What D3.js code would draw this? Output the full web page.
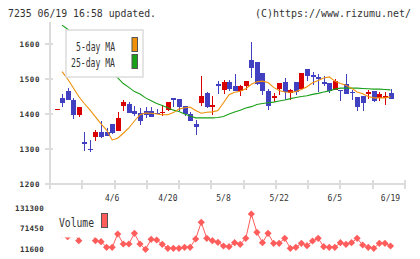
<!DOCTYPE html>
<html>
<head>
<meta charset="utf-8">
<script src="https://cdnjs.cloudflare.com/ajax/libs/d3/7.8.5/d3.min.js"></script>
<style>
    body { margin: 0; background: #fff; }
    svg { display: block; }
    text { font-family: "DejaVu Sans Mono", monospace; fill: #333; }
</style>
</head>
<body>
<svg id="chart" width="420" height="259"></svg>
<script>

// Data
var code = '7235',
    updated = '06/19 16:58 updated.',
    credit = '(C)https://www.rizumu.net/';

var opens  = [1413,1446,1466,1440,1398,1321,1300,1335,1349,1349,1371,1352,1424,1429,1409,1403,1409,1409,1404,1405,
              1412,1446,1443,1423,1401,1371,1432,1460,1421,1486,1469,1491,1480,1466,1480,1554,1549,1517,1466,1446,
              1471,1491,1460,1491,1471,1529,1511,1506,1491,1489,1469,1469,1486,1463,1449,1451,1458,1466,1447,1447,1460];
var highs  = [1414,1457,1473,1447,1420,1349,1326,1354,1380,1360,1371,1406,1441,1434,1423,1417,1420,1420,1414,1426,
              1434,1446,1443,1423,1407,1383,1509,1463,1451,1494,1497,1497,1514,1483,1494,1606,1549,1517,1471,1460,
              1489,1503,1471,1491,1517,1529,1520,1514,1509,1489,1500,1469,1514,1469,1449,1451,1469,1466,1463,1463,1471];
var lows   = [1412,1421,1441,1387,1392,1294,1291,1324,1331,1338,1343,1352,1409,1404,1395,1369,1389,1392,1401,1395,
              1410,1420,1409,1395,1380,1341,1424,1417,1397,1457,1457,1466,1466,1451,1469,1503,1483,1454,1411,1434,
              1454,1440,1440,1454,1471,1494,1483,1463,1480,1460,1469,1438,1458,1441,1409,1409,1444,1434,1438,1427,1444];
var closes = [1413,1432,1441,1398,1420,1314,1296,1349,1335,1338,1346,1389,1434,1404,1400,1381,1397,1392,1401,1407,
              1434,1441,1420,1401,1381,1364,1451,1421,1426,1481,1491,1471,1466,1480,1494,1532,1486,1466,1423,1451,
              1489,1463,1469,1463,1517,1509,1506,1500,1486,1466,1494,1466,1458,1460,1421,1432,1463,1438,1458,1452,1444];

var ma5  = [null,1521,1500,1475,1450,1430,1412,1392,1372,1354,1326,1331,1345,1360,1380,1398,1403,1402,1400,1398,
            1398,1404,1414,1418,1420,1410,1402,1405,1406,1410,1432,1455,1462,1465,1472,1485,1492,1494,1490,1476,
            1467,1463,1462,1464,1470,1478,1489,1496,1503,1506,1494,1487,1482,1474,1463,1458,1450,1446,1446,1446,1449];
var ma25 = [null,1654,1642,1628,1612,1597,1581,1565,1549,1533,1518,1503,1487,1476,1464,1457,1446,1438,1430,1424,
            1418,1411,1407,1400,1394,1389,1389,1389,1389,1390,1393,1400,1406,1411,1417,1421,1427,1430,1432,1434,
            1437,1440,1444,1447,1450,1452,1456,1459,1463,1466,1471,1474,1474,1474,1474,1473,1472,1471,1471,1470,1469];

var volumes = [60000,55000,47500,65000,35800,95000,80000,35800,32900,16600,16600,55400,26200,26200,57400,26200,10700,39900,37900,25300,
               13600,13600,13600,16600,16600,40800,89500,42800,35800,31200,20400,18300,30000,25300,42800,113800,60300,30000,57400,28200,
               28200,42800,13600,16600,28200,21200,35000,42800,18300,16600,16600,30000,25300,30000,42800,23300,16600,13600,28200,28200,20400];

var dateIdx   = [10, 20, 30, 40, 50, 60],
    dateTicks = ['4/6', '4/20', '5/8', '5/22', '6/5', '6/19'];
var priceTicks  = [1200, 1300, 1400, 1500, 1600];
var volumeTicks = [11600, 71450, 131300];

// Colors
var upColor = '#d80000',
    downColor = '#4040c0',
    ma5Color = '#f0900a',
    ma25Color = '#18a018',
    volColor = '#ff5c5c',
    axisColor = '#dcdcdc';

var svg = d3.select('#chart');

// Scales
var x = d3.scaleLinear().domain([0, opens.length - 1]).range([56.5, 390.5]);
var y = d3.scaleLinear().domain([1200, 1600]).range([184, 44]);
var yVol = d3.scaleLinear().domain([11600, 131300]).range([249, 208]);
var grid = d3.scaleLinear().domain([0, 11]).range([50, 405]);

// Header
svg.append('text').attr('x', 8).attr('y', 16.5)
    .attr('font-size', 10).attr('textLength', 148).attr('lengthAdjust', 'spacingAndGlyphs')
    .text(code + ' ' + updated);
svg.append('text').attr('x', 255).attr('y', 16.5)
    .attr('font-size', 10).attr('textLength', 156).attr('lengthAdjust', 'spacingAndGlyphs')
    .text(credit);

// Axes
var axes = svg.append('g').attr('stroke', axisColor).attr('stroke-width', 2).attr('shape-rendering', 'crispEdges');
axes.append('line').attr('x1', grid(0)).attr('x2', grid(0)).attr('y1', 22).attr('y2', 189);
axes.append('line').attr('x1', 45).attr('x2', grid(11)).attr('y1', y(1200)).attr('y2', y(1200));
axes.selectAll('.ytick').data(priceTicks).enter().append('line')
    .attr('x1', 45).attr('x2', 53)
    .attr('y1', function(d){ return y(d); }).attr('y2', function(d){ return y(d); });
axes.selectAll('.xtick').data(d3.range(1, 12)).enter().append('line')
    .attr('x1', function(d){ return grid(d); }).attr('x2', function(d){ return grid(d); })
    .attr('y1', y(1200) - 4).attr('y2', 189);

svg.selectAll('.plabel').data(priceTicks).enter().append('text')
    .attr('x', 40).attr('y', function(d){ return y(d) + 2.6; })
    .attr('text-anchor', 'end').attr('font-size', 7.5).attr('font-weight', 'bold')
    .attr('letter-spacing', 0.6).attr('fill', '#444')
    .text(function(d){ return d; });

svg.selectAll('.xlabel').data(dateIdx).enter().append('text')
    .attr('x', function(d){ return x(d); }).attr('y', 201)
    .attr('text-anchor', 'middle').attr('font-size', 8)
    .text(function(d, i){ return dateTicks[i]; });

// Candles
var candles = svg.append('g').attr('shape-rendering', 'crispEdges');
d3.range(opens.length).forEach(function(i){
    var up = closes[i] >= opens[i];
    var color = up ? upColor : downColor;
    var x0 = Math.round(x(i)) - 2;
    candles.append('line')
        .attr('x1', x0 + 2.5).attr('x2', x0 + 2.5)
        .attr('y1', y(highs[i])).attr('y2', y(lows[i]))
        .attr('stroke', color).attr('stroke-width', 1);
    var top = y(Math.max(opens[i], closes[i])),
        bottom = y(Math.min(opens[i], closes[i]));
    candles.append('rect')
        .attr('x', x0).attr('width', 5)
        .attr('y', top).attr('height', Math.max(1, bottom - top))
        .attr('fill', color);
});

// Moving averages
var maLine = d3.line()
    .defined(function(d){ return d != null; })
    .x(function(d, i){ return x(i); })
    .y(function(d){ return y(d); });

svg.append('path').datum(ma25).attr('d', maLine)
    .attr('fill', 'none').attr('stroke', ma25Color).attr('stroke-width', 1.1);
svg.append('path').datum(ma5).attr('d', maLine)
    .attr('fill', 'none').attr('stroke', ma5Color).attr('stroke-width', 1.1);

// Price legend
var legend = svg.append('g');
legend.append('rect').attr('x', 66).attr('y', 30).attr('width', 77).attr('height', 47)
    .attr('fill', '#fff').attr('stroke', axisColor).attr('stroke-width', 1.5);
legend.append('text').attr('x', 76).attr('y', 50.5).attr('font-size', 12)
    .attr('textLength', 39).attr('lengthAdjust', 'spacingAndGlyphs').text('5-day MA');
legend.append('text').attr('x', 71).attr('y', 67).attr('font-size', 12)
    .attr('textLength', 44).attr('lengthAdjust', 'spacingAndGlyphs').text('25-day MA');
legend.append('rect').attr('x', 132).attr('y', 37.5).attr('width', 5.5).attr('height', 14)
    .attr('fill', ma5Color).attr('stroke', '#555').attr('stroke-width', 1);
legend.append('rect').attr('x', 132).attr('y', 54.5).attr('width', 5.5).attr('height', 14)
    .attr('fill', ma25Color).attr('stroke', '#555').attr('stroke-width', 1);

// Volume
var volLine = d3.line()
    .x(function(d, i){ return x(i); })
    .y(function(d){ return yVol(d); });

svg.append('path').datum(volumes).attr('d', volLine)
    .attr('fill', 'none').attr('stroke', volColor).attr('stroke-width', 1);

svg.selectAll('.vmark').data(volumes).enter().append('path')
    .attr('d', 'M0,-3.6L3.6,0L0,3.6L-3.6,0Z')
    .attr('transform', function(d, i){ return 'translate(' + x(i) + ',' + yVol(d) + ')'; })
    .attr('fill', volColor);

svg.selectAll('.vlabel').data(volumeTicks).enter().append('text')
    .attr('x', 44).attr('y', function(d){ return yVol(d) + 2.6; })
    .attr('text-anchor', 'end').attr('font-size', 7.5).attr('font-weight', 'bold')
    .attr('letter-spacing', 0.3).attr('fill', '#444')
    .text(function(d){ return d; });

// Volume legend (white box hides the points behind it)
svg.append('rect').attr('x', 51).attr('y', 203).attr('width', 61).attr('height', 34.5).attr('fill', '#fff');
svg.append('text').attr('x', 59).attr('y', 227).attr('font-size', 12)
    .attr('textLength', 35).attr('lengthAdjust', 'spacingAndGlyphs').text('Volume');
svg.append('rect').attr('x', 101.5).attr('y', 213.5).attr('width', 6).attr('height', 14)
    .attr('fill', volColor).attr('stroke', '#555').attr('stroke-width', 1);

</script>
</body>
</html>
